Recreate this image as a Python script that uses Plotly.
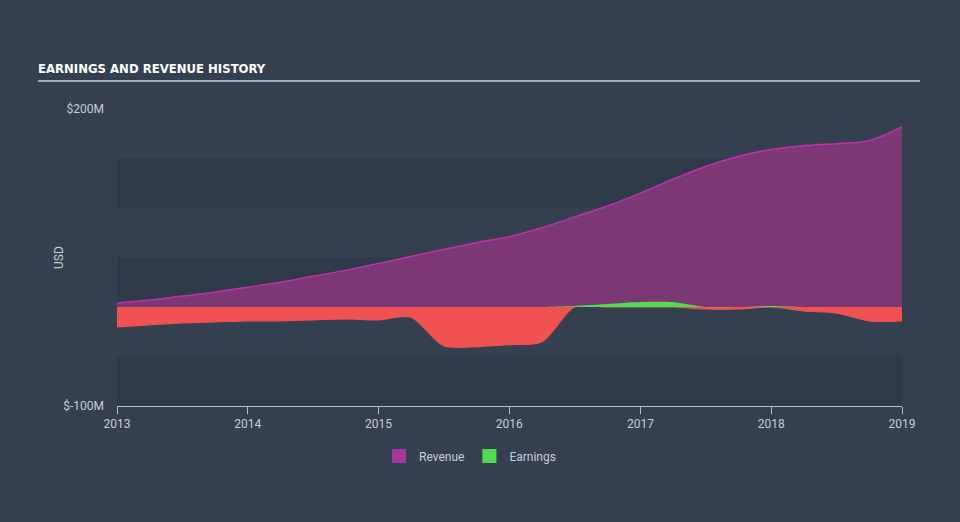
import plotly.graph_objects as go

# ---- data (USD millions, trailing figures per quarter) ----
quarters = [
    "2013-01-01", "2013-04-01", "2013-07-01", "2013-10-01",
    "2014-01-01", "2014-04-01", "2014-07-01", "2014-10-01",
    "2015-01-01", "2015-04-01", "2015-07-01", "2015-10-01",
    "2016-01-01", "2016-04-01", "2016-07-01", "2016-10-01",
    "2017-01-01", "2017-04-01", "2017-07-01", "2017-10-01",
    "2018-01-01", "2018-04-01", "2018-07-01", "2018-10-01",
    "2019-01-01",
]
revenue = [4, 7, 11, 15, 20, 25, 31, 37, 44, 51, 58, 65, 71, 80, 91, 102,
           115, 129, 142, 152, 159, 163, 165, 168, 182]
earnings = [-20, -18, -16, -15, -14, -14, -13, -12, -13, -10, -39, -40, -38,
            -35, 1, 3, 5, 5, -2, -2, 1, -4, -6, -14, -14]

year_ticks = [2013, 2014, 2015, 2016, 2017, 2018, 2019]
y_tick_vals = [-100, 200]
y_tick_text = ["$-100M", "$200M"]
band_step = 50

BG = "#34404f"
BAND = "#2e3a48"
REV_FILL = "#7b3874"
REV_LINE = "#be32aa"
REV_KEY = "#a8379b"
RED = "#f05252"
GREEN = "#50dc50"
TXT = "#c9ced4"
FONT = "Roboto"

neg = [min(v, 0) for v in earnings]
pos = [max(v, 0) for v in earnings]

fig = go.Figure()
fig.add_trace(go.Scatter(
    x=quarters, y=neg, mode="lines", line=dict(color=RED, width=1.2, shape="spline", smoothing=0.8),
    fill="tozeroy", fillcolor=RED, showlegend=False, hoverinfo="skip"))
fig.add_trace(go.Scatter(
    x=quarters, y=revenue, name="Revenue", mode="lines",
    line=dict(color=REV_LINE, width=1.5, shape="spline", smoothing=0.8),
    fill="tozeroy", fillcolor=REV_FILL, showlegend=False))
fig.add_trace(go.Scatter(
    x=quarters, y=pos, name="Earnings", mode="lines",
    line=dict(color=GREEN, width=0, shape="spline", smoothing=0.8),
    fill="tozeroy", fillcolor=GREEN, showlegend=False))

# legend keys (square swatches)
for name, col in [("Revenue", REV_KEY), ("Earnings", GREEN)]:
    fig.add_trace(go.Scatter(x=[None], y=[None], mode="markers", name=name,
                             marker=dict(symbol="square", size=14, color=col, line=dict(width=0))))

# alternating horizontal bands
shapes = []
lo, hi = y_tick_vals[0], y_tick_vals[-1]
v = lo
while v < hi:
    shapes.append(dict(type="rect", xref="paper", yref="y", x0=0, x1=1, y0=v, y1=v + band_step,
                       fillcolor=BAND, line=dict(width=0), layer="below"))
    v += 2 * band_step
# title underline
shapes.append(dict(type="line", xref="paper", yref="paper",
                   x0=(38 - 117) / 785, x1=(920 - 117) / 785, y0=(406 - 81) / 297, y1=(406 - 81) / 297,
                   line=dict(color="#a7adb4", width=2)))

fig.update_layout(
    width=960, height=522,
    paper_bgcolor=BG, plot_bgcolor=BG,
    margin=dict(l=117, r=58, t=109, b=116),
    font=dict(family=FONT, color=TXT, size=12),
    shapes=shapes,
    title=dict(text="EARNINGS AND REVENUE HISTORY", x=38 / 960, xanchor="left",
               y=1 - 68 / 522, yanchor="middle",
               font=dict(family="DejaVu Sans Condensed", size=13, color="#ffffff", weight="bold")),
    showlegend=True,
    legend=dict(orientation="h", x=(470 - 117) / 785, xanchor="center", y=(406 - 456) / 297,
                yanchor="middle", font=dict(size=12, color=TXT), bgcolor="rgba(0,0,0,0)",
                itemwidth=30, traceorder="normal"),
    annotations=[dict(text="USD", textangle=-90, xref="paper", yref="paper",
                      x=(59 - 117) / 785, y=(406 - 258) / 297, xanchor="center", yanchor="middle",
                      showarrow=False, font=dict(size=12, color=TXT))],
    xaxis=dict(
        range=["2013-01-01", "2019-01-01"],
        tickvals=[f"{y}-01-01" for y in year_ticks],
        ticktext=[str(y) for y in year_ticks],
        showgrid=False, zeroline=False,
        showline=True, linecolor="#b8c0ca", linewidth=1,
        ticks="outside", ticklen=7, tickcolor="#b8c0ca",
        tickfont=dict(size=12, color=TXT),
    ),
    yaxis=dict(
        range=[lo, hi],
        tickvals=y_tick_vals, ticktext=y_tick_text,
        showgrid=False, zeroline=False, showline=False,
        ticks="", ticklabelstandoff=12,
        tickfont=dict(size=12, color=TXT),
    ),
)

fig.write_html("out.html")
